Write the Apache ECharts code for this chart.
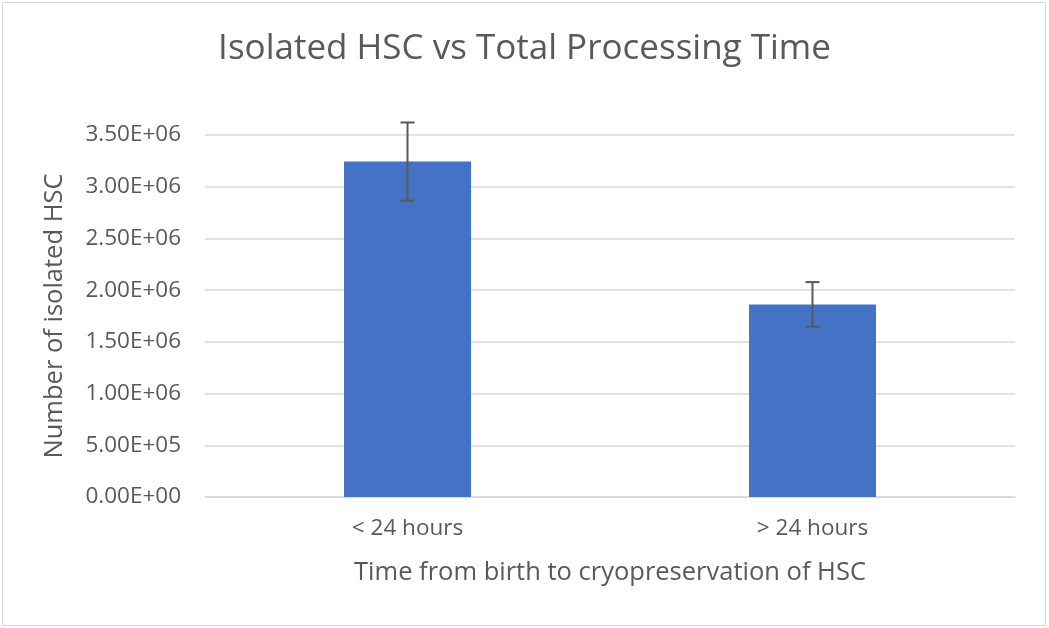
<!DOCTYPE html>
<html>
<head>
<meta charset="utf-8">
<script src="https://cdn.jsdelivr.net/npm/echarts@6/dist/echarts.min.js"></script>
<style>
  html, body { margin: 0; padding: 0; background: #fff; }
  #chart { width: 1049px; height: 628px; box-sizing: border-box; }
  .frame { position: absolute; left: 2px; top: 2px; width: 1044px; height: 624px; border: 1px solid #d9d9d9; box-sizing: border-box; pointer-events: none; }
</style>
</head>
<body>
<div id="chart"></div>
<div class="frame"></div>
<script>
// data
var categories = ['< 24 hours', '> 24 hours'];
var hscValues = [3.243e6, 1.862e6];
var hscErrors = [0.378e6, 0.216e6];
var yTicks = [0, 5e5, 1e6, 1.5e6, 2e6, 2.5e6, 3e6, 3.5e6];

var textColor = '#595959';
var font = 'Open Sans';

// Excel style 0.00E+00
function sci(v) {
  if (v === 0) return '0.00E+00';
  var e = Math.floor(Math.log10(Math.abs(v)));
  var m = v / Math.pow(10, e);
  var s = e < 0 ? '-' : '+';
  var ae = Math.abs(e);
  return m.toFixed(2) + 'E' + s + (ae < 10 ? '0' + ae : ae);
}

var errData = categories.map(function (c, i) {
  return [i, hscValues[i] - hscErrors[i], hscValues[i] + hscErrors[i]];
});

var chart = echarts.init(document.getElementById('chart'));
chart.setOption({
  animation: false,
  backgroundColor: '#fff',
  title: {
    text: 'Isolated HSC vs Total Processing Time',
    left: 'center',
    top: 27,
    textStyle: { fontFamily: font, fontSize: 35, fontWeight: 'normal', color: textColor }
  },
  grid: { left: 205, right: 34, top: 135, bottom: 131 },
  xAxis: {
    type: 'category',
    data: categories,
    axisTick: { show: false },
    axisLine: { lineStyle: { color: '#d9d9d9', width: 1.5 } },
    axisLabel: { color: textColor, fontFamily: font, fontSize: 22.5, margin: 20 },
    name: 'Time from birth to cryopreservation of HSC',
    nameLocation: 'middle',
    nameGap: 63,
    nameTextStyle: { color: textColor, fontFamily: font, fontSize: 25.5 }
  },
  yAxis: {
    type: 'value',
    min: yTicks[0],
    max: yTicks[yTicks.length - 1],
    interval: yTicks[1] - yTicks[0],
    axisLine: { show: false },
    axisTick: { show: false },
    splitLine: { lineStyle: { color: '#d9d9d9', width: 1.5 } },
    axisLabel: { color: textColor, fontFamily: font, fontSize: 22.5, margin: 24, formatter: sci },
    name: 'Number of isolated HSC',
    nameLocation: 'middle',
    nameGap: 137,
    nameTextStyle: { color: textColor, fontFamily: font, fontSize: 25.5 }
  },
  series: [
    {
      type: 'bar',
      data: hscValues,
      barWidth: 127,
      itemStyle: { color: '#4472c4' }
    },
    {
      type: 'custom',
      data: errData,
      z: 10,
      renderItem: function (params, api) {
        var x = api.value(0);
        var lo = api.coord([x, api.value(1)]);
        var hi = api.coord([x, api.value(2)]);
        var half = 7;
        var st = { stroke: '#595959', lineWidth: 2 };
        return {
          type: 'group',
          children: [
            { type: 'line', shape: { x1: hi[0], y1: hi[1], x2: lo[0], y2: lo[1] }, style: st },
            { type: 'line', shape: { x1: hi[0] - half, y1: hi[1], x2: hi[0] + half, y2: hi[1] }, style: st },
            { type: 'line', shape: { x1: lo[0] - half, y1: lo[1], x2: lo[0] + half, y2: lo[1] }, style: st }
          ]
        };
      }
    }
  ]
});
</script>
</body>
</html>
